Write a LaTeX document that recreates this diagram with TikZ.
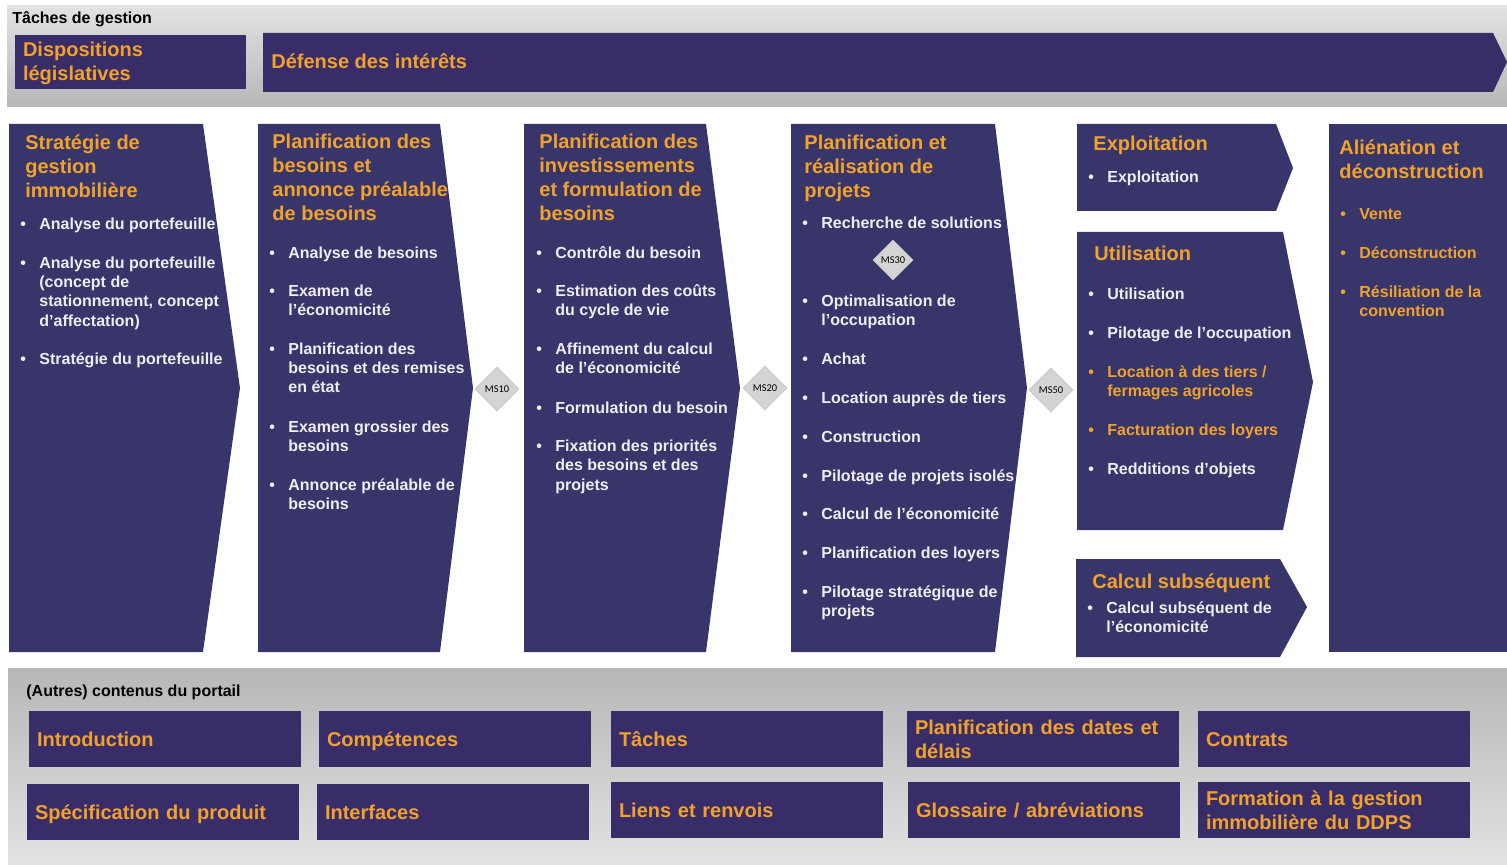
\documentclass[tikz,border=0pt]{standalone}
\usepackage{fontspec}
\setmainfont{Liberation Sans}
\newfontfamily\msfont{Carlito}
\usetikzlibrary{shapes.geometric}
\definecolor{colblue}{RGB}{55,53,105}
\definecolor{boxblue}{RGB}{56,44,105}
\definecolor{orng}{RGB}{240,162,44}
\definecolor{txtw}{RGB}{238,238,242}
\definecolor{msgray}{RGB}{212,212,212}
\definecolor{bandlt}{RGB}{226,226,226}
\definecolor{banddk}{RGB}{182,183,182}
\newcommand{\bul}{\rule{0pt}{8pt}\llap{\textbullet\hspace{6.7pt}}}
\begin{document}
\begin{tikzpicture}[x=0.5pt,y=-0.5pt,
	head/.style={anchor=north west,inner sep=0pt,align=left,text=orng,font=\bfseries\fontsize{10}{12}\selectfont,execute at begin node={\rule{0pt}{10pt}}},
	itm/.style={anchor=north west,inner sep=0pt,align=left,text=txtw,font=\bfseries\fontsize{8}{9.65}\selectfont},
	itmo/.style={itm,text=orng},
	lbl/.style={anchor=base west,inner sep=0pt,font=\bfseries\fontsize{8}{9.6}\selectfont},
	pbox/.style={fill=boxblue,text=orng,minimum height=28pt,text width=128pt,inner xsep=4pt,inner ysep=0pt,align=left,font=\bfseries\fontsize{10}{12}\selectfont,execute at begin node={\rule{0pt}{9.5pt}},execute at end node={\rule[-2.5pt]{0pt}{2.5pt}}},
	ms/.style={diamond,draw=gray!45,fill=msgray,inner sep=0pt,minimum width=22pt,minimum height=22pt,font=\msfont\fontsize{5.2}{6}\selectfont}]
		\useasboundingbox (0,0) rectangle (1507,865);
		\shade[top color=bandlt,bottom color=banddk] (7,6) rectangle (1507,107);
		\shade[top color=banddk,bottom color=bandlt] (8,668) rectangle (1507,865);
		\node[lbl] (tg) at (12,24) {Tâches de gestion};
		\node[pbox,text width=107.5pt,minimum height=27pt] (disp) at (130.5,62) {Dispositions\\législatives};
		\fill[boxblue] (263,33)--(1493,33)--(1507,62)--(1493,92)--(263,92)--cycle;
		\node[head] (def) at (271,48) {Défense des intérêts};
		\fill[colblue] (9,124)--(203,124)--(240,388)--(203,652)--(9,652)--cycle;
		\node[head] (h1) at (25,134) {Stratégie de\\gestion\\immobilière};
		\node[itm] (a1) at (39,213) {\bul Analyse du portefeuille};
		\node[itm] (a2) at (39,252) {\bul Analyse du portefeuille\\(concept de\\stationnement, concept\\d'affectation)};
		\node[itm] (a3) at (39,348) {\bul Stratégie du portefeuille};
		\fill[colblue] (258,124)--(440,124)--(473,388)--(440,652)--(258,652)--cycle;
		\node[head] (h2) at (272,134) {Planification des\\besoins et\\annonce préalable\\de besoins};
		\node[itm] (b1) at (288,242) {\bul Analyse de besoins};
		\node[itm] (b2) at (288,280) {\bul Examen de\\l’économicité};
		\node[itm] (b3) at (288,338) {\bul Planification des\\besoins et des remises\\en état};
		\node[itm] (b4) at (288,416) {\bul Examen grossier des\\besoins};
		\node[itm] (b5) at (288,474) {\bul Annonce préalable de\\besoins};
		\node[ms] (ms10) at (497,389) {MS10};
		\fill[colblue] (524,124)--(706,124)--(740,388)--(706,652)--(524,652)--cycle;
		\node[head] (h3) at (539,134) {Planification des\\investissements\\et formulation de\\besoins};
		\node[itm] (c1) at (555,242) {\bul Contrôle du besoin};
		\node[itm] (c2) at (555,280) {\bul Estimation des coûts\\du cycle de vie};
		\node[itm] (c3) at (555,338) {\bul Affinement du calcul\\de l’économicité};
		\node[itm] (c4) at (555,397) {\bul Formulation du besoin};
		\node[itm] (c5) at (555,435) {\bul Fixation des priorités\\des besoins et des\\projets};
		\node[ms] (ms20) at (765,388) {MS20};
		\fill[colblue] (791,124)--(995,124)--(1027,388)--(995,652)--(791,652)--cycle;
		\node[head] (h4) at (804,135) {Planification et\\réalisation de\\projets};
		\node[itm] (d1) at (821,212) {\bul Recherche de solutions};
		\node[ms,minimum width=20pt,minimum height=20pt] (ms30) at (893,260) {MS30};
		\node[itm] (d2) at (821,290) {\bul Optimalisation de\\l’occupation};
		\node[itm] (d3) at (821,348) {\bul Achat};
		\node[itm] (d4) at (821,387) {\bul Location auprès de tiers};
		\node[itm] (d5) at (821,426) {\bul Construction};
		\node[itm] (d6) at (821,465) {\bul Pilotage de projets isolés};
		\node[itm] (d7) at (821,503) {\bul Calcul de l’économicité};
		\node[itm] (d8) at (821,542) {\bul Planification des loyers};
		\node[itm] (d9) at (821,581) {\bul Pilotage stratégique de\\projets};
		\node[ms] (ms50) at (1051,390) {MS50};
		\fill[colblue] (1077,124)--(1276,124)--(1293,168)--(1276,211)--(1077,211)--cycle;
		\node[head] (h5) at (1093,130) {Exploitation};
		\node[itm] (e1) at (1107,166) {\bul Exploitation};
		\fill[colblue] (1077,232)--(1283,232)--(1313,382)--(1283,530)--(1077,530)--cycle;
		\node[head] (h6) at (1094,240) {Utilisation};
		\node[itm] (f1) at (1107,283) {\bul Utilisation};
		\node[itm] (f2) at (1107,322) {\bul Pilotage de l’occupation};
		\node[itmo] (f3) at (1107,361) {\bul Location à des tiers /\\fermages agricoles};
		\node[itmo] (f4) at (1107,419) {\bul Facturation des loyers};
		\node[itm] (f5) at (1107,458) {\bul Redditions d’objets};
		\fill[colblue] (1076,559)--(1280,559)--(1307,607)--(1280,657)--(1076,657)--cycle;
		\node[head] (h7) at (1092,568) {Calcul subséquent};
		\node[itm] (g1) at (1106,597) {\bul Calcul subséquent de\\l’économicité};
		\fill[colblue] (1329,124) rectangle (1507,652);
		\node[head] (h8) at (1339,139) {Aliénation et\\déconstruction};
		\node[itmo] (k1) at (1359,203) {\bul Vente};
		\node[itmo] (k2) at (1359,242) {\bul Déconstruction};
		\node[itmo] (k3) at (1359,281) {\bul Résiliation de la\\convention};
		\node[lbl] (ac) at (26,696) {(Autres) contenus du portail};
		\node[pbox] (intro) at (165,739) {Introduction};
		\node[pbox] (comp) at (455,739) {Compétences};
		\node[pbox] (tach) at (747,739) {Tâches};
		\node[pbox] (dates) at (1043,739) {Planification des dates et\\délais};
		\node[pbox] (contr) at (1334,739) {Contrats};
		\node[pbox] (spec) at (163,812) {Spécification du produit};
		\node[pbox] (intf) at (453,812) {Interfaces};
		\node[pbox] (liens) at (747,810) {Liens et renvois};
		\node[pbox] (gloss) at (1044,810) {Glossaire / abréviations};
		\node[pbox] (form) at (1334,810) {Formation à la gestion\\immobilière du DDPS};
	\end{tikzpicture}
\end{document}
